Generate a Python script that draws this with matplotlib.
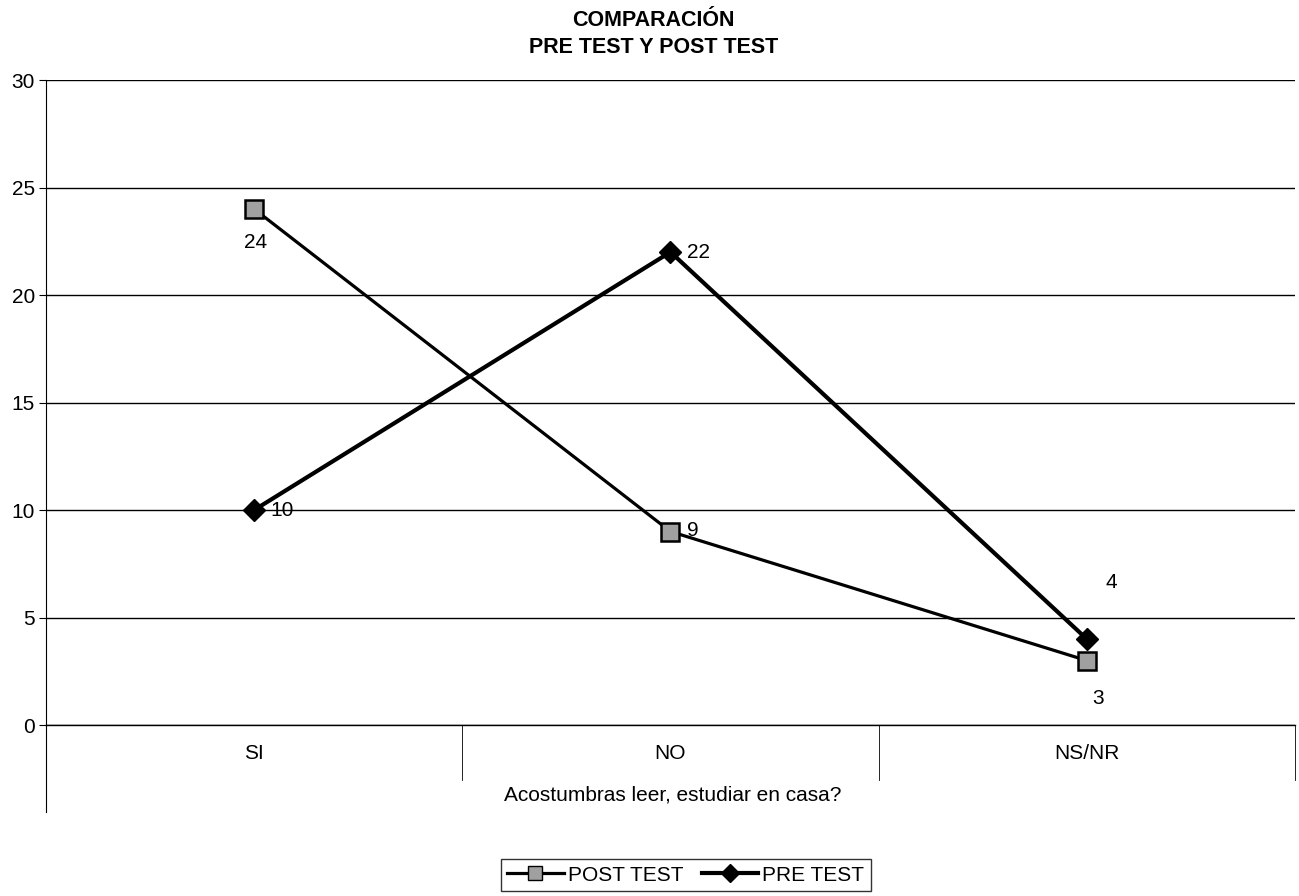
import matplotlib.pyplot as plt
from matplotlib.lines import Line2D

plt.rcParams['font.family'] = ['Liberation Sans', 'DejaVu Sans']

categorias = ["SI", "NO", "NS/NR"]
post_test = [24, 9, 3]
pre_test = [10, 22, 4]

# desplazamiento de las etiquetas de datos (puntos)
off_post = [(1, -24), (16, 1), (8, -27)]
off_pre = [(20, 0), (20, 0), (18, 41)]

fig = plt.figure(figsize=(12.99, 8.96), dpi=100)
ax = fig.add_axes([0.0354, 0.1908, 0.9615, 0.7199])

x = range(len(categorias))
ax.plot(x, post_test, color="black", lw=2.3, marker="s", ms=13,
        mfc="#a0a0a0", mec="black", mew=1.8, label="POST TEST", zorder=3)
ax.plot(x, pre_test, color="black", lw=3.0, marker="D", ms=11,
        mfc="black", mec="black", label="PRE TEST", zorder=3)

for i in x:
    ax.annotate(str(post_test[i]), (i, post_test[i]), xytext=off_post[i],
                textcoords="offset points", ha="center", va="center", fontsize=15)
    ax.annotate(str(pre_test[i]), (i, pre_test[i]), xytext=off_pre[i],
                textcoords="offset points", ha="center", va="center", fontsize=15)

ax.set_xlim(-0.5, 2.5)
ax.set_ylim(0, 30)
ax.set_yticks(range(0, 31, 5))
ax.yaxis.grid(True, color="black", lw=1)
ax.set_axisbelow(True)
for s in ["top", "right"]:
    ax.spines[s].set_visible(False)
ax.spines["left"].set_linewidth(0.8)
ax.spines["bottom"].set_linewidth(1)
ax.tick_params(axis="y", labelsize=15, length=5, width=0.8, pad=3)
ax.set_xticks(list(x))
ax.set_xticklabels(categorias, fontsize=15)
ax.tick_params(axis="x", length=0, pad=14)

# separadores de categorias y eje izquierdo prolongado
ax.plot([-0.5, -0.5], [0, -0.135], transform=ax.get_xaxis_transform(),
        color="black", lw=0.8, clip_on=False)
for xs in [0.5, 1.5, 2.5]:
    ax.plot([xs, xs], [0, -0.085], transform=ax.get_xaxis_transform(),
            color="black", lw=0.6, clip_on=False)

fig.text(0.518, 1 - 795 / 896, "Acostumbras leer, estudiar en casa?",
         fontsize=15, ha="center", va="center")

fig.suptitle("COMPARACIÓN\nPRE TEST Y POST TEST", fontsize=15.5, fontweight="bold",
             x=0.503, y=1 - 10 / 896, va="top", linespacing=1.35)

handles = [
    Line2D([], [], color="black", lw=2.3, marker="s", ms=10, mfc="#a0a0a0",
           mec="black", label="POST TEST"),
    Line2D([], [], color="black", lw=3.0, marker="D", ms=9, mfc="black",
           label="PRE TEST"),
]
fig.legend(handles=handles, loc="center", bbox_to_anchor=(0.528, 0.0234), ncol=2,
           fontsize=15, frameon=True, fancybox=False, edgecolor="black",
           handlelength=2.7, handletextpad=0.2, columnspacing=0.9,
           borderpad=0.3, borderaxespad=0)

fig.savefig("out.png", dpi=100)
